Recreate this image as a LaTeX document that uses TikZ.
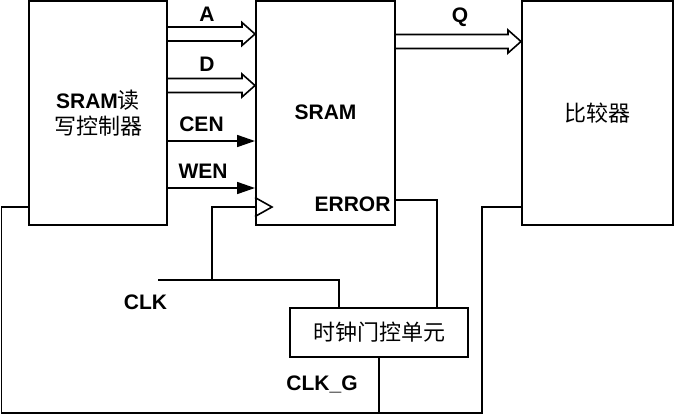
\documentclass[tikz,border=0pt]{standalone}
\usepackage{fontspec}
\setmainfont{Liberation Sans}
\newfontfamily\cjk{Noto Sans CJK SC}
\usetikzlibrary{calc,arrows.meta}
\tikzset{
  box/.style={draw, line width=2bp, inner sep=0pt, rectangle},
  wire/.style={line width=1.6bp, line join=miter},
  sig/.style={font=\fontsize{21bp}{24bp}\selectfont\bfseries, inner sep=0pt},
  zh/.style={font=\fontsize{22bp}{26bp}\selectfont\cjk},
  ctrlarrow/.style={wire, -{Triangle[length=18bp,width=12bp]}},
}
\newcommand\busarrow[2]{%
  \draw[wire] ($(#1)+(0,-7)$) -- ($(#2)+(-13,-7)$) -- ($(#2)+(-13,-11.5)$) -- (#2)
    -- ($(#2)+(-13,11.5)$) -- ($(#2)+(-13,7)$) -- ($(#1)+(0,7)$);}
\begin{document}
\begin{tikzpicture}[x=1bp,y=-1bp]
\useasboundingbox (0,0) rectangle (674,415);
% blocks
\node[box, minimum width=138bp, minimum height=224.5bp, align=center,
  font=\fontsize{21bp}{26bp}\selectfont] (ctrl) at (98,112.75)
  {\textbf{SRAM}{\fontsize{22bp}{26bp}\selectfont\cjk 读}\\{\fontsize{22bp}{26bp}\selectfont\cjk 写控制器}};
\node[box, minimum width=139bp, minimum height=224.5bp, sig] (sram) at (325.5,112.75) {SRAM};
\node[box, minimum width=151bp, minimum height=224.5bp, zh] (cmp) at (597.5,112.75) {比较器};
\node[box, minimum width=178bp, minimum height=49bp, zh] (gate) at (379,332.5) {时钟门控单元};
% row coordinates
\coordinate (yA) at (0,34);
\coordinate (yD) at (0,85.5);
\coordinate (yQ) at (0,41.5);
\coordinate (yCEN) at (0,141);
\coordinate (yWEN) at (0,188);
\coordinate (yCLK) at (0,207);
\coordinate (yERR) at (0,200);
\coordinate (clkin) at (158,280);
\coordinate (clkbr) at (212,280);
\coordinate (clkgt) at (339,280);
\coordinate (errc) at (437,200);
\coordinate (gbot) at (379,413);
\coordinate (lft) at (1.5,413);
\coordinate (rgt) at (482,413);
% buses
\busarrow{ctrl.east |- yA}{sram.west |- yA}
\busarrow{ctrl.east |- yD}{sram.west |- yD}
\busarrow{sram.east |- yQ}{cmp.west |- yQ}
% control signals
\draw[ctrlarrow] (ctrl.east |- yCEN) -- (sram.west |- yCEN);
\draw[ctrlarrow] (ctrl.east |- yWEN) -- (sram.west |- yWEN);
% clock triangle
\draw[wire] ($(sram.west |- yCLK)+(0,-9.5)$) -- ($(sram.west |- yCLK)+(17,0)$) -- ($(sram.west |- yCLK)+(0,9.5)$);
% clock wiring
\draw[wire] (clkin) -- (clkgt) -- (clkgt |- gate.north);
\draw[wire] (clkbr) -- (clkbr |- yCLK) -- (sram.west |- yCLK);
\draw[wire] (sram.east |- yERR) -- (errc) -- (errc |- gate.north);
\draw[wire] (gate.south) -- (gbot);
\draw[wire] (ctrl.west |- yCLK) -- (lft |- yCLK) -- (lft) -- (rgt) -- (rgt |- yCLK) -- (cmp.west |- yCLK);
% labels
\node[sig] (lA) at (207,14.5) {A};
\node[sig] (lD) at (207,64) {D};
\node[sig] (lCEN) at (201.5,124.5) {CEN};
\node[sig] (lWEN) at (203,171) {WEN};
\node[sig] (lQ) at (460,17) {Q};
\node[sig] (lERR) at (352.5,204.5) {ERROR};
\node[sig] (lCLK) at (145.5,302) {CLK};
\node[sig] (lCLKG) at (322,384.5) {CLK\_G};
\end{tikzpicture}
\end{document}
